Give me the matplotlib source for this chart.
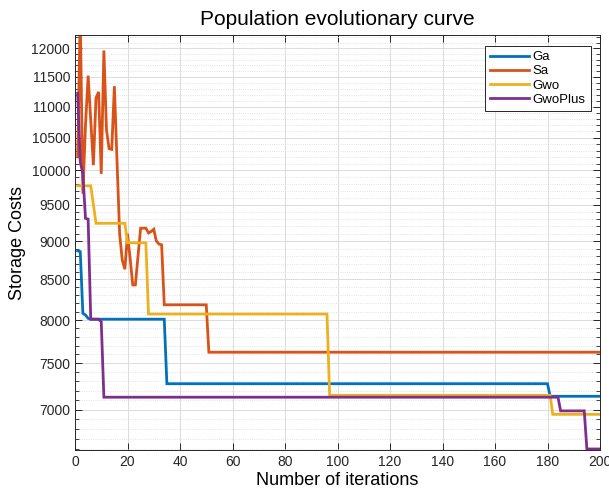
import matplotlib
matplotlib.use("Agg")
import matplotlib.pyplot as plt
from matplotlib.ticker import FixedLocator, FixedFormatter, NullFormatter

plt.rcParams['font.family'] = ['Liberation Sans', 'DejaVu Sans']

# --- data (iteration, cost) at each knee of the curves ---
ga_x = [1, 2, 3, 4, 5, 6, 34, 35, 180, 181, 200]
ga_y = [8870, 8860, 8080, 8060, 8020, 8010, 8010, 7275, 7275, 7140, 7140]

sa_x = [1, 2, 3, 4, 5, 6, 7, 8, 9, 10, 11, 12, 13, 14, 15, 16, 17, 18, 19, 20,
        21, 22, 23, 24, 25, 26, 27, 28, 29, 30, 31, 32, 33, 34, 50, 51, 200]
sa_y = [10206, 12600, 9660, 10700, 11520, 10780, 10080, 11140, 11245, 9950,
        11960, 10620, 10330, 10320, 11340, 10150, 9100, 8750, 8630, 9100,
        8770, 8430, 8430, 8800, 9175, 9175, 9175, 9110, 9130, 9160, 9000,
        8960, 8950, 8184, 8184, 7625, 7625]

gwo_x = [1, 6, 8, 19, 20, 27, 28, 96, 97, 181, 182, 200]
gwo_y = [9774, 9774, 9242, 9242, 8977, 8977, 8072, 8072, 7150, 7150, 6950, 6950]

gwop_x = [1, 2, 3, 4, 5, 6, 9, 10, 11, 184, 185, 194, 195, 200]
gwop_y = [11220, 10130, 9950, 9311, 9300, 8010, 8010, 7980, 7130, 7130, 6986, 6986, 6600, 6600]

series_names = ['Ga', 'Sa', 'Gwo', 'GwoPlus']
series_colors = ['#0072BD', '#D95319', '#EDB120', '#7E2F8E']

yticks = [7000, 7500, 8000, 8500, 9000, 9500, 10000, 10500, 11000, 11500, 12000]
xticks = [0, 20, 40, 60, 80, 100, 120, 140, 160, 180, 200]

# --- figure ---
fig = plt.figure(figsize=(6.09, 4.91), dpi=100)
ax = fig.add_axes([75 / 609, 41 / 491, 525 / 609, 415 / 491])

for xs, ys, name, col in zip([ga_x, sa_x, gwo_x, gwop_x],
                             [ga_y, sa_y, gwo_y, gwop_y],
                             series_names, series_colors):
    ax.plot(xs, ys, color=col, linewidth=2, label=name, solid_joinstyle='miter')

ax.set_yscale('log')
ax.set_xlim(0, 200)
ax.set_ylim(6590, 12240)

ax.xaxis.set_major_locator(FixedLocator(xticks))
ax.yaxis.set_major_locator(FixedLocator(yticks))
ax.yaxis.set_major_formatter(FixedFormatter([str(t) for t in yticks]))
minor = [v for v in range(6600, 12300, 100) if v not in yticks]
ax.yaxis.set_minor_locator(FixedLocator(minor))
ax.yaxis.set_minor_formatter(NullFormatter())

ax.tick_params(which='both', direction='in', top=True, right=True,
               labelsize=10, colors='#262626')
ax.tick_params(which='major', length=5, width=0.7)
ax.tick_params(which='minor', length=3, width=0.6)

ax.grid(which='major', color='#dcdcdc', linewidth=0.7)
ax.grid(which='minor', axis='y', color='#dadada', linestyle=':', linewidth=0.6)
ax.set_axisbelow(True)

for sp in ax.spines.values():
    sp.set_color('#262626')
    sp.set_linewidth(0.7)

ax.set_title('Population evolutionary curve', fontsize=15, pad=7)
ax.set_xlabel('Number of iterations', fontsize=13, labelpad=2)
ax.set_ylabel('Storage Costs', fontsize=13, labelpad=4)

leg = ax.legend(loc='upper right', bbox_to_anchor=(0.995, 0.99), fontsize=9.5,
                handlelength=2.9, fancybox=False, framealpha=1,
                borderpad=0.4, labelspacing=0.15, handletextpad=0.3)
leg.get_frame().set_edgecolor('#262626')
leg.get_frame().set_linewidth(0.7)

fig.savefig('out.png', dpi=100)
